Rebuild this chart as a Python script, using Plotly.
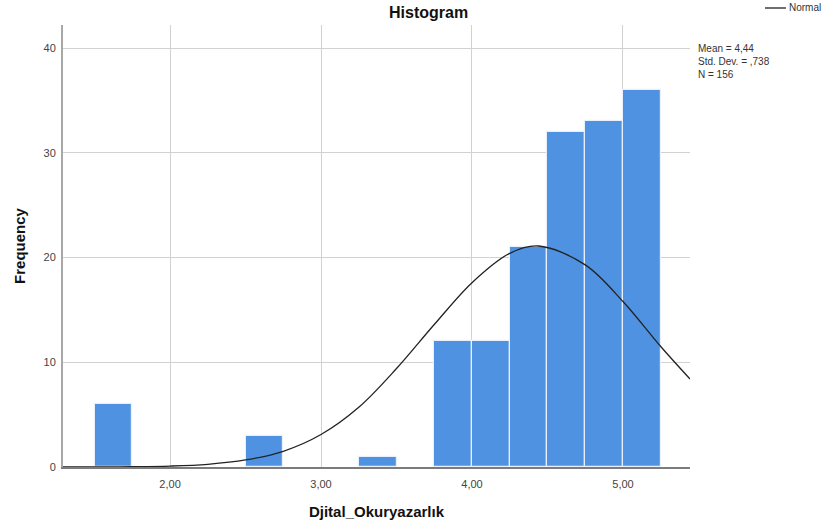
import plotly.graph_objects as go

# Histogram bins (left edge, count); bin width 0.25
bin_lefts = [1.50, 2.50, 3.25, 3.75, 4.00, 4.25, 4.50, 4.75, 5.00]
bin_counts = [6, 3, 1, 12, 12, 21, 32, 33, 36]
bin_width = 0.25

# Normal curve points
curve_x = [1.29, 1.50, 1.75, 2.00, 2.25, 2.50, 2.75, 3.00, 3.25, 3.50, 3.75,
           4.00, 4.25, 4.44, 4.75, 5.00, 5.25, 5.444]
curve_y = [0.0, 0.01, 0.03, 0.09, 0.26, 0.67, 1.5, 3.1, 5.7, 9.4, 13.6,
           17.6, 20.4, 21.1, 19.3, 15.8, 11.5, 8.4]

x_tickvals = [2, 3, 4, 5]
x_ticktext = ["2,00", "3,00", "4,00", "5,00"]
y_tickvals = [0, 10, 20, 30, 40]

stats_text = "Mean = 4,44<br>Std. Dev. = ,738<br>N = 156"
legend_label = "Normal"

FONT = "Liberation Sans, Arial, sans-serif"

L, R, T, B = 63, 142, 25, 65
PW, PH = 832 - L - R, 532 - T - B


def px(xp):
    return (xp - L) / PW


def py(yp):
    return (532 - B - yp) / PH


fig = go.Figure()
fig.add_trace(go.Bar(
    x=[b + bin_width / 2 for b in bin_lefts],
    y=bin_counts,
    width=bin_width,
    marker=dict(color="#5092e2", line=dict(color="#e8f0fb", width=1.2)),
    showlegend=False,
    hoverinfo="x+y",
))
fig.add_trace(go.Scatter(
    x=curve_x, y=curve_y, mode="lines", line_shape="spline",
    line=dict(color="#222222", width=1.3),
    name=legend_label, showlegend=False,
))

fig.update_layout(
    width=832, height=532,
    margin=dict(l=L, r=R, t=T, b=B, autoexpand=False),
    paper_bgcolor="white", plot_bgcolor="white",
    font=dict(family=FONT, color="#444444", size=11),
    bargap=0,
    showlegend=False,
    xaxis=dict(range=[1.291, 5.444], tickvals=x_tickvals, ticktext=x_ticktext,
               showgrid=True, gridcolor="#d2d2d2", gridwidth=1,
               showline=True, linecolor="#7c7c7c", linewidth=2,
               zeroline=False, ticks="", ticklabelstandoff=6,
               automargin=False,
               title=dict(text="<b>Djital_Okuryazarlık</b>",
                          font=dict(size=15, color="#111111"), standoff=17)),
    yaxis=dict(range=[0, 42.2], tickvals=y_tickvals,
               showgrid=True, gridcolor="#d2d2d2", gridwidth=1,
               showline=True, linecolor="#a8a8a8", linewidth=2,
               zeroline=False, ticks="", ticklabelstandoff=3,
               automargin=False,
               title=dict(text="<b>Frequency</b>",
                          font=dict(size=15, color="#111111"), standoff=14)),
    shapes=[
        dict(type="line", xref="paper", yref="paper",
             x0=px(765), x1=px(786), y0=py(8), y1=py(8),
             line=dict(color="#222222", width=1.3)),
    ],
    annotations=[
        dict(text="<b>Histogram</b>", xref="paper", yref="paper",
             x=px(428), y=py(12), xanchor="center",
             yanchor="middle", showarrow=False,
             font=dict(size=16, color="#111111", family=FONT)),
        dict(text=legend_label, xref="paper", yref="paper",
             x=px(787), y=py(8), xanchor="left", yanchor="middle",
             showarrow=False,
             font=dict(size=10, color="#333333", family=FONT)),
        dict(text=stats_text, xref="paper", yref="paper",
             x=px(696), y=py(41), xanchor="left",
             yanchor="top", align="left", showarrow=False,
             font=dict(size=10, color="#333333", family=FONT)),
    ],
)

fig.write_html("out.html",
               config={"displayModeBar": False},
               post_script="document.body.style.margin='0';"
                           "document.body.style.padding='0';")
